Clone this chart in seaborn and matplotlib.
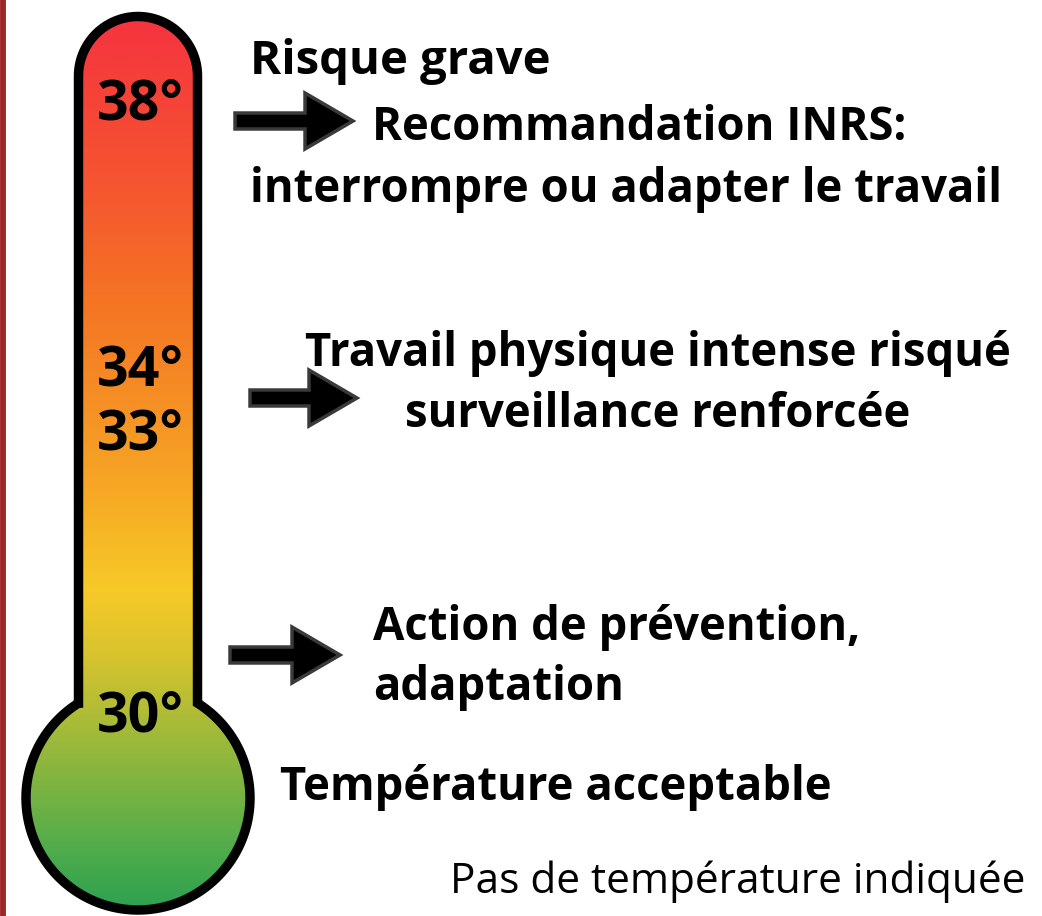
import numpy as np
import matplotlib
matplotlib.use("Agg")
import matplotlib.pyplot as plt
from matplotlib.path import Path
from matplotlib.patches import PathPatch, Polygon
import seaborn as sns

# temperature marks on the thermometer
temp_labels = ["38°", "34°", "33°", "30°"]
temp_y = [120, 385, 450, 732]

# messages on the right (bold)
messages = [
    "Risque grave",
    "Recommandation INRS:",
    "interrompre ou adapter le travail",
    "Travail physique intense risqué",
    "surveillance renforcée",
    "Action de prévention,",
    "adaptation",
    "Température acceptable",
]
msg_x = [250, 372, 250, 305, 658, 373, 373, 280]
msg_y = [74, 140, 202, 366, 427, 640, 700, 800]
msg_ha = ["left", "left", "left", "left", "center", "left", "left", "left"]
msg_size = [34, 32.8, 32.8, 32.8, 32.8, 32.8, 32.8, 32.8]
footer = "Pas de température indiquée"

# arrows: (start x, tip x, centre y)
arrow_start = [235, 250, 230]
arrow_tip = [353, 357, 340]
arrow_y = [121, 398, 655]

# gradient stops along the tube (pixel y, colour)
grad_y = [15, 200, 300, 480, 590, 660, 860, 915]
grad_c = ["#f5333f", "#f5592f", "#f47424", "#f6a524", "#f7c928", "#d6c32e", "#4aab4c", "#2aa052"]

sns.set_theme(style="white")
plt.rcParams["font.family"] = ["Open Sans", "DejaVu Sans"]

W, H = 1042, 916
fig = plt.figure(figsize=(W / 100, H / 100), dpi=100)
ax = fig.add_axes([0, 0, 1, 1])
ax.set_xlim(0, W)
ax.set_ylim(H, 0)
ax.axis("off")


def thermo_path(cx, top_cy, hw, bulb_cy, R, n=120):
    dy = np.sqrt(R ** 2 - hw ** 2)
    yj = bulb_cy - dy
    pts = [(cx - hw, yj), (cx - hw, top_cy)]
    t = np.linspace(np.pi, 0, n)
    pts += list(zip(cx + hw * np.cos(t), top_cy - hw * np.sin(t)))
    pts.append((cx + hw, yj))
    a0 = np.arctan2(-dy, hw)
    a = np.linspace(a0, np.pi - a0, 2 * n)
    pts += list(zip(cx + R * np.cos(a), bulb_cy + R * np.sin(a)))
    pts.append((cx - hw, yj))
    return Path(pts, closed=True)


path = thermo_path(138, 76, 59.5, 798, 112)

# gradient fill clipped to the thermometer
cmap = sns.blend_palette(grad_c, as_cmap=True)
yy = np.linspace(0, H, 600)
vals = np.interp(yy, grad_y, np.linspace(0, 1, len(grad_y)))
img = ax.imshow(vals[:, None], cmap=cmap, aspect="auto", extent=(0, 280, H, 0),
                vmin=0, vmax=1, zorder=1)
patch = PathPatch(path, facecolor="none", edgecolor="black", lw=6.8, zorder=3)
ax.add_patch(patch)
img.set_clip_path(patch)

# left red rule
ax.axvline(2.5, color="#9b2528", lw=4.2, zorder=4)

for lab, y in zip(temp_labels, temp_y):
    ax.text(140, y, lab, ha="center", va="baseline", fontsize=40,
            fontweight="bold", color="black", zorder=5)

for txt, x, y, ha, fs in zip(messages, msg_x, msg_y, msg_ha, msg_size):
    ax.text(x, y, txt, ha=ha, va="baseline", fontsize=fs, fontweight="bold",
            color="black", zorder=5)

ax.text(1025, 893, footer, ha="right", va="baseline", fontsize=30.5,
        color="black", zorder=5)

for x0, x1, y in zip(arrow_start, arrow_tip, arrow_y):
    head = 48
    sh, hh = 8, 28
    xs = x1 - head
    verts = [(x0, y - sh), (xs, y - sh), (xs, y - hh), (x1, y),
             (xs, y + hh), (xs, y + sh), (x0, y + sh)]
    ax.add_patch(Polygon(verts, closed=True, facecolor="black",
                         edgecolor="#3a3a3a", lw=2.5, zorder=5))

fig.savefig("out.png", dpi=100)
